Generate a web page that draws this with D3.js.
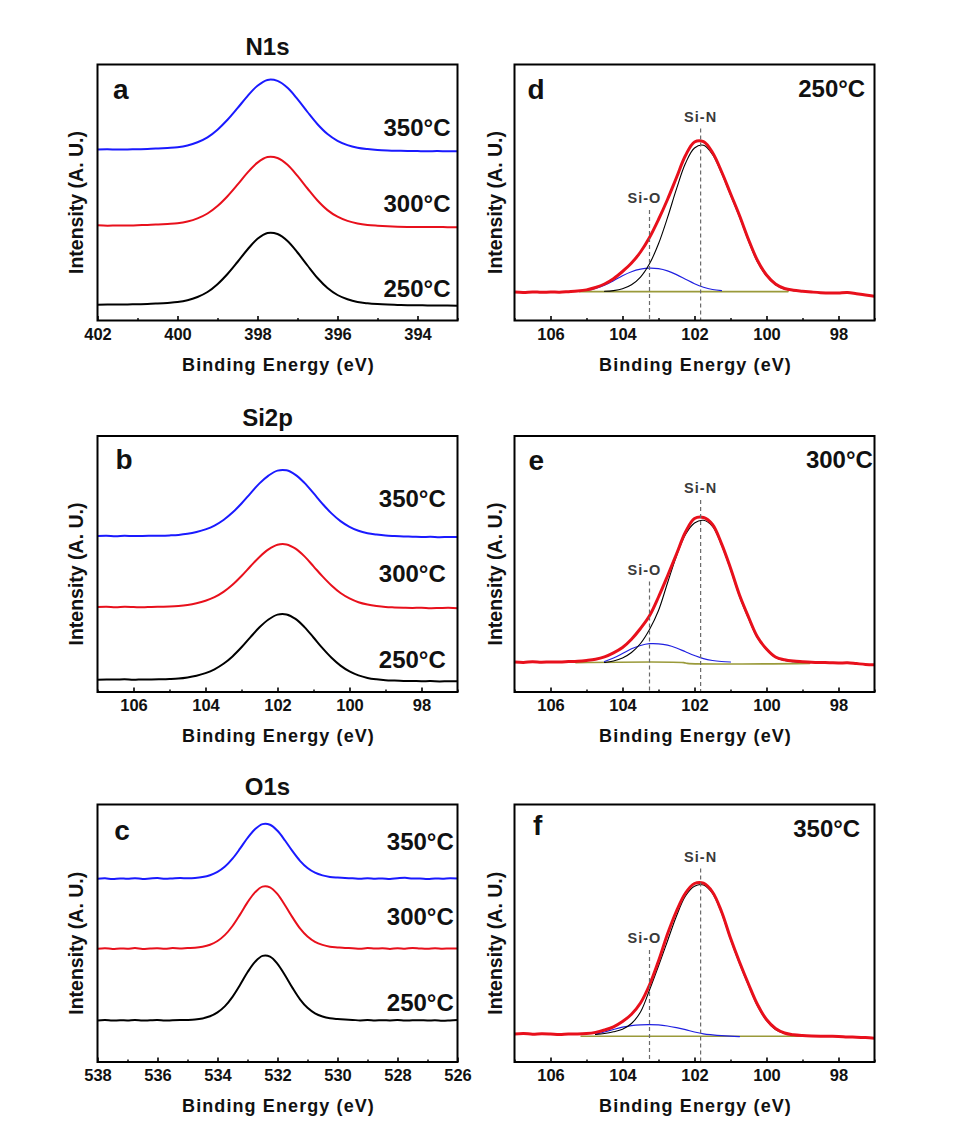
<!DOCTYPE html>
<html><head><meta charset="utf-8">
<script src="https://cdn.jsdelivr.net/npm/d3@7"></script>
<style>
body{margin:0;background:#fff;}
svg text{font-family:"Liberation Sans",Arial,Helvetica,sans-serif;}
</style></head><body>
<svg id="chart" width="973" height="1148"></svg>
<script>
// ---------------- DATA (intensity in arbitrary units) ----------------
const TEMPS = ["250°C", "300°C", "350°C"];
const PANEL_LETTERS = ["a", "b", "c", "d", "e", "f"];
const PANEL_TITLES = ["N1s", "Si2p", "O1s"];
const PEAK_NAMES = ["Si-O", "Si-N"];
const PEAK_POS = [103.25, 101.83];

// N1s
const N1S_E = [402,401.75,401.5,401.25,401,400.75,400.5,400.25,400,399.75,399.5,399.25,399,398.75,398.5,398.25,398,397.75,397.5,397.25,397,396.75,396.5,396.25,396,395.75,395.5,395.25,395,394.75,394.5,394.25,394,393.75,393.5,393.25,393];
const N1S_250 = [15.8,16.0,15.9,16.1,16.3,16.5,17.0,17.6,18.4,20.2,23.5,28.5,36.3,46.5,58.5,71,81.7,87.5,86.5,79.5,68,55,42.5,32.5,25.5,21.2,18.5,17.2,16.4,15.9,15.6,15.3,15.2,15.1,15.0,15.0,14.8];
const N1S_300 = [95.2,94.8,95.1,94.9,95.3,95.5,96.0,96.6,97.3,99.0,102.1,107.0,114.5,124.3,135.8,147.8,157.9,163.5,162.5,155.8,144.6,132.0,120.0,110.4,103.8,99.6,97.1,95.6,94.8,94.2,93.8,93.6,93.5,93.4,93.6,93.3,93.3];
const N1S_350 = [171.0,171.2,170.9,171.1,171.3,171.5,172.0,172.6,173.3,175.0,178.2,183.1,190.8,200.7,212.3,224.4,234.8,240.6,239.6,232.7,221.4,208.5,196.3,186.5,179.7,175.4,172.8,171.4,170.5,170.0,169.7,169.5,169.4,169.3,169.4,169.2,169.3];

// Si2p
const SI2P_E = [107,106.75,106.5,106.25,106,105.75,105.5,105.25,105,104.75,104.5,104.25,104,103.75,103.5,103.25,103,102.75,102.5,102.25,102,101.75,101.5,101.25,101,100.75,100.5,100.25,100,99.75,99.5,99.25,99,98.75,98.5,98.25,98,97.75,97.5,97.25,97];
const SI2P_250 = [12.3,12.6,12.4,12.8,12.2,12.6,12.5,12.7,13.0,13.5,14.6,16.3,18.9,22.7,28.2,35.6,44.7,54.9,64.7,72.5,77.4,77.6,73.1,64.9,54.5,43.8,34.2,26.4,20.6,16.6,14.1,12.7,11.8,11.4,11.1,11.0,10.8,10.9,10.6,10.8,10.7];
const SI2P_300 = [85.0,85.3,84.8,85.2,85.0,84.7,85.1,85.3,85.5,86.0,87.0,88.7,91.2,94.8,100.1,107.2,116.0,125.7,135.1,142.6,147.3,147.6,143.3,135.6,125.7,115.6,106.5,99.0,93.6,89.8,87.5,86.0,85.0,84.6,84.3,84.1,84.3,83.8,84.0,84.2,83.8];
const SI2P_350 = [156.0,156.3,155.7,156.2,155.9,156.1,156.2,156.3,156.6,157.1,158.2,160.0,162.6,166.4,172.0,179.4,188.5,198.7,208.6,216.4,221.4,221.7,217.2,209.1,198.8,188.2,178.6,170.9,165.2,161.2,158.8,157.4,156.4,155.9,155.5,155.3,155.0,155.2,154.8,155.1,155.0];

// O1s
const O1S_E = [538,537.75,537.5,537.25,537,536.75,536.5,536.25,536,535.75,535.5,535.25,535,534.75,534.5,534.25,534,533.75,533.5,533.25,533,532.75,532.5,532.25,532,531.75,531.5,531.25,531,530.75,530.5,530.25,530,529.75,529.5,529.25,529,528.75,528.5,528.25,528,527.75,527.5,527.25,527,526.75,526.5,526.25,526];
const O1S_250 = [41.5,41.9,41.4,41.8,41.6,42.0,41.5,41.7,41.9,41.4,41.8,42.0,42.1,42.5,43.6,45.7,49.6,55.9,65.2,77.0,89.7,100.1,106.1,105.4,98.2,86.7,74.1,62.7,54.2,48.7,45.5,43.7,42.9,42.4,42.1,41.6,41.9,41.5,41.8,41.6,41.9,41.4,41.7,41.8,41.5,41.7,41.3,41.6,42.0];
const O1S_300 = [113.2,113.8,113.0,113.6,113.3,113.9,113.1,113.5,113.7,113.2,113.9,113.6,114.0,114.3,115.3,117.3,121.0,127.1,136.0,147.4,159.6,169.6,175.4,174.7,167.8,156.7,144.6,133.6,125.4,120.1,117.1,115.3,114.6,114.0,113.8,113.2,113.9,113.4,113.7,113.1,113.8,113.3,114.0,113.5,113.2,113.7,113.3,113.6,113.4];
const O1S_350 = [183.3,183.7,183.0,183.6,183.2,183.8,183.1,183.5,183.9,183.3,183.6,183.9,183.8,184.1,185.0,186.8,190.1,195.4,203.3,213.3,224.0,232.8,237.9,237.3,231.2,221.5,210.8,201.2,194.0,189.3,186.6,185.1,184.4,183.9,183.7,183.2,183.8,183.3,183.6,183.0,183.7,184.2,183.4,183.6,183.1,183.5,183.3,183.7,183.4];

// Si2p fits (grid = SI2P_E); components start at a given grid index
const RAW_250 = [28.4,28.0,28.6,28.2,28.5,28.3,28.8,29.4,30.6,33.0,36.5,41.8,49,57.4,68.5,83,101,121,143,165,178.5,178.8,168,149,127,105,81,60,45.5,36.5,32,30.2,29.3,28.5,27.8,27.4,27.6,28,26.8,25.5,24.2];
const SIN_250_START = 10;
const SIN_250 = [29.2,29.9,31.7,35.7,43.4,56.7,76.7,102.8,131.6,157.2,172.5,175.2,166,147.5,125.5,103.5,79.5,58.5,44.5,35.8,31.5,29.9,29.2,28.9];
const SIO_250_START = 8;
const SIO_250 = [30.0,32.0,35.2,39.8,44.8,48.8,51.3,52.4,51.8,49.6,45.9,41.3,36.8,33.3,31.0,29.8];
const BG_250_E = [105.2, 99.4];
const BG_250 = [28.9, 28.9];

const RAW_300 = [30.0,29.6,30.2,29.8,30.1,30.0,30.4,30.8,31.6,32.8,35.2,39.2,44.5,52.8,63.5,76.2,95,116,138,160,173.5,174.5,167.5,148.4,124,97,75,55,43,35,32.2,30.9,30.3,29.8,29.5,29.3,29.0,29.2,28.4,27.6,27.2];
const SIN_300_START = 10;
const SIN_300 = [29.5,31.0,34.0,39.5,48.5,62.5,81.5,109,136,157.5,169,171.7,165.5,147,122.5,95.5,73.5,54,42.5,34.5,31.5,30.3,29.8,29.5];
const SIO_300_START = 10;
const SIO_300 = [30.5,34,38.5,43.2,46.5,48.3,48.2,46.8,44,40.2,36.5,33.3,31.5,30.5,30];
const BG_300_E = [105.3, 102.3, 102.2, 98.8];
const BG_300 = [29.4, 29.4, 28.6, 28.6];

const RAW_350 = [28.0,28.5,27.8,28.2,28.0,27.6,28.1,28.0,28.4,29.6,32.0,35.2,40.5,47.8,59,77,101,128,151,169,178.5,178.8,170,150.5,124,100,78,57.5,42.5,33.5,29,27.2,26.4,26.0,25.8,25.7,25.6,25.0,24.8,24.4,23.8];
const SIN_350_START = 9;
const SIN_350 = [27.6,28.5,30.2,32.8,38.5,50,72,96,121,146,166,175.7,177,168.5,149,122.5,98.5,76.5,56,41.5,32.5,28.5,27.2,26.8];
const SIO_350_START = 9;
const SIO_350 = [27.8,30,32.5,34.8,36.4,37.2,37.4,37.1,36,34.3,32.3,30,28.2,27.2,26.4,25.8,25.4];
const BG_350_E = [105.15, 98.76];
const BG_350 = [25.7, 25.7];

// Axis ticks
const TICKS_N1S = [402,400,398,396,394];
const MINOR_N1S = [401,399,397,395,393];
const TICKS_SI = [106,104,102,100,98];
const MINOR_SI = [107,105,103,101,99,97];
const TICKS_O1S = [538,536,534,532,530,528,526];
const MINOR_O1S = [537,535,533,531,529,527];

// ---------------- DRAWING ----------------
const svg = d3.select("#chart");
const FONT = '"Liberation Sans", Arial, Helvetica, sans-serif';
const COLORS = {"250°C": "#000000", "300°C": "#e8101c", "350°C": "#1a1aff"};
const W = 360;
const COLS = [97.5, 514.5];
const ROWS = [{top: 64.5, h: 256}, {top: 436, h: 256}, {top: 804.5, h: 257.5}];

const pts = (E, Y) => E.map((e, i) => ({e, v: Y[i]}));
const onGrid = (E, start, vals) => vals.map((v, i) => ({e: E[start + i], v}));

let clipId = 0;
function makePanel(col, row, domain, major, minor, letter, letterPos) {
  const x0 = COLS[col], y0 = ROWS[row].top, h = ROWS[row].h;
  const g = svg.append("g").attr("transform", `translate(${x0},${y0})`);
  const x = d3.scaleLinear().domain(domain).range([0, W]);
  const y = d3.scaleLinear().domain([0, h]).range([h, 0]);
  const id = "clip" + (clipId++);
  g.append("clipPath").attr("id", id).append("rect").attr("width", W).attr("height", h);
  const plot = g.append("g").attr("clip-path", `url(#${id})`);

  // ticks
  const ax = g.append("g").attr("transform", `translate(0,${h})`)
    .call(d3.axisBottom(x).tickValues(major).tickSizeInner(-4.5).tickSizeOuter(0).tickPadding(7.5).tickFormat(d3.format("d")));
  ax.select(".domain").remove();
  ax.selectAll("line").attr("stroke-width", 1.6);
  ax.selectAll("text").attr("font-family", FONT).attr("font-size", 16.5).attr("font-weight", "bold").attr("fill", "#111");
  const mn = g.append("g").attr("transform", `translate(0,${h})`)
    .call(d3.axisBottom(x).tickValues(minor).tickSizeInner(-2.5).tickSizeOuter(0).tickFormat(""));
  mn.select(".domain").remove();
  mn.selectAll("line").attr("stroke-width", 1.4);

  // axis titles
  g.append("text").attr("x", W / 2 + 1).attr("y", h + 50)
    .attr("text-anchor", "middle").attr("font-size", 18).attr("font-weight", "bold")
    .attr("letter-spacing", "1.1px").attr("fill", "#111").text("Binding Energy (eV)");
  g.append("text").attr("transform", `translate(${col === 0 ? -15 : -13},${h / 2 + 10}) rotate(-90)`)
    .attr("text-anchor", "middle").attr("font-size", 19.5).attr("font-weight", "bold")
    .attr("fill", "#111").text("Intensity (A. U.)");

  g.append("text").attr("x", letterPos[0]).attr("y", letterPos[1])
    .attr("font-size", 28).attr("font-weight", "bold").attr("fill", "#111").text(letter);

  return {g, plot, x, y, h};
}

function frame(p) {
  p.g.append("rect").attr("width", W).attr("height", p.h)
    .attr("fill", "none").attr("stroke", "#000").attr("stroke-width", 2);
}

function drawLine(p, data, color, width) {
  const line = d3.line().x(d => p.x(d.e)).y(d => p.y(d.v)).curve(d3.curveCatmullRom.alpha(0.5));
  p.plot.append("path").datum(data).attr("d", line)
    .attr("fill", "none").attr("stroke", color).attr("stroke-width", width)
    .attr("stroke-linejoin", "round").attr("stroke-linecap", "round");
}

// ----- left column: a, b, c -----
const leftPanels = [
  {row: 0, E: N1S_E, S: [N1S_250, N1S_300, N1S_350], dom: [402, 393], major: TICKS_N1S, minor: MINOR_N1S,
   letterPos: [15.6, 34], labY: [232.4, 147.4, 71.7], labOff: 7},
  {row: 1, E: SI2P_E, S: [SI2P_250, SI2P_300, SI2P_350], dom: [107, 97], major: TICKS_SI, minor: MINOR_SI,
   letterPos: [18, 33.3], labY: [232.3, 145.7, 71.3], labOff: 11.7},
  {row: 2, E: O1S_E, S: [O1S_250, O1S_300, O1S_350], dom: [538, 526], major: TICKS_O1S, minor: MINOR_O1S,
   letterPos: [16.7, 35.7], labY: [206.4, 120.7, 45], labOff: 3.7}
];
leftPanels.forEach((cfg, k) => {
  const p = makePanel(0, cfg.row, cfg.dom, cfg.major, cfg.minor, PANEL_LETTERS[k], cfg.letterPos);
  cfg.S.forEach((s, i) => drawLine(p, pts(cfg.E, s), COLORS[TEMPS[i]], 2));
  TEMPS.forEach((t, i) => {
    p.g.append("text").attr("x", W - cfg.labOff).attr("y", cfg.labY[i])
      .attr("text-anchor", "end").attr("font-size", 24).attr("font-weight", "bold")
      .attr("fill", "#111").text(t);
  });
  p.g.append("text").attr("x", W / 2 - 10).attr("y", -10).attr("text-anchor", "middle")
    .attr("font-size", 24).attr("font-weight", "bold").attr("fill", "#111").text(PANEL_TITLES[k]);
  frame(p);
});

// ----- right column: d, e, f -----
const rightPanels = [
  {row: 0, raw: RAW_250, sin: [SIN_250_START, SIN_250], sio: [SIO_250_START, SIO_250], bg: [BG_250_E, BG_250],
   letterPos: [13, 34.3], tOff: 9.3},
  {row: 1, raw: RAW_300, sin: [SIN_300_START, SIN_300], sio: [SIO_300_START, SIO_300], bg: [BG_300_E, BG_300],
   letterPos: [14, 34], tOff: 1.6},
  {row: 2, raw: RAW_350, sin: [SIN_350_START, SIN_350], sio: [SIO_350_START, SIO_350], bg: [BG_350_E, BG_350],
   letterPos: [18.4, 30], tOff: 14.3}
];
rightPanels.forEach((cfg, k) => {
  const p = makePanel(1, cfg.row, [107, 97], TICKS_SI, MINOR_SI, PANEL_LETTERS[k + 3], cfg.letterPos);
  // dashed peak markers + labels
  const labBase = [138.5, 57];
  const labShift = [-5, 0];
  PEAK_POS.forEach((e, i) => {
    p.g.append("line").attr("x1", p.x(e)).attr("x2", p.x(e))
      .attr("y1", labBase[i] + 7).attr("y2", p.h)
      .attr("stroke", "#6a6a6a").attr("stroke-width", 1.2).attr("stroke-dasharray", "4,3");
    p.g.append("text").attr("x", p.x(e) + labShift[i]).attr("y", labBase[i])
      .attr("text-anchor", "middle").attr("font-size", 14.5).attr("font-weight", "bold")
      .attr("letter-spacing", "1px").attr("fill", "#3a3a3a").text(PEAK_NAMES[i]);
  });
  drawLine(p, pts(cfg.bg[0], cfg.bg[1]), "#9a9a3a", 1.6);
  drawLine(p, onGrid(SI2P_E, cfg.sio[0], cfg.sio[1]), "#2020e0", 1.2);
  drawLine(p, onGrid(SI2P_E, cfg.sin[0], cfg.sin[1]), "#000000", 1.1);
  drawLine(p, pts(SI2P_E, cfg.raw), "#e8101c", 3);
  p.g.append("text").attr("x", W - cfg.tOff).attr("y", 32.3)
    .attr("text-anchor", "end").attr("font-size", 24).attr("font-weight", "bold")
    .attr("fill", "#111").text(TEMPS[k]);
  frame(p);
});
</script>
</body></html>
